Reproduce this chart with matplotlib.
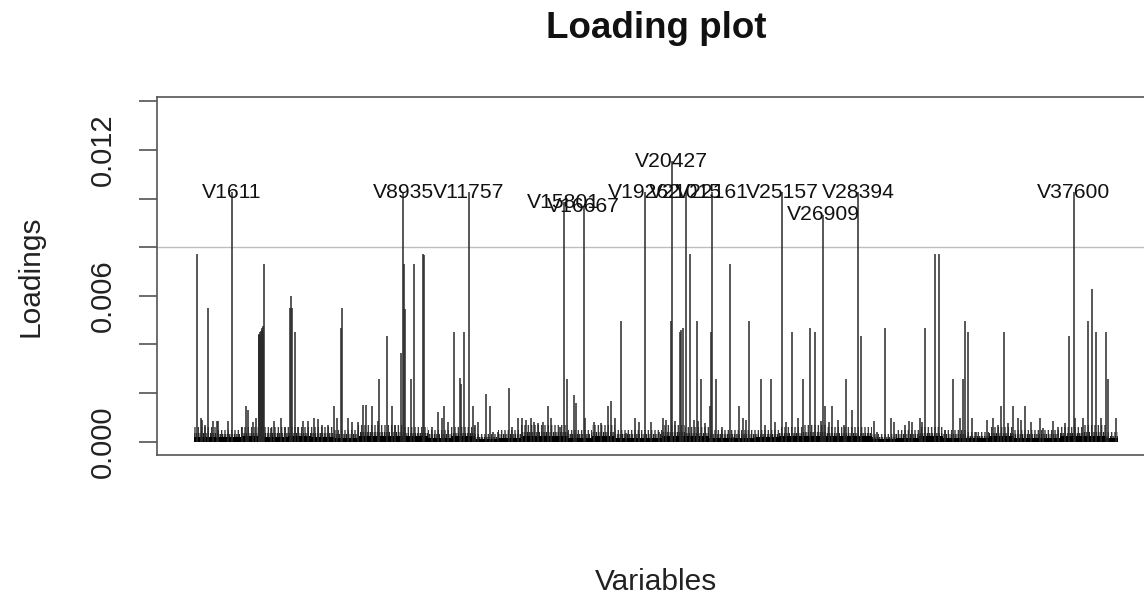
import matplotlib
matplotlib.use("Agg")
import matplotlib.pyplot as plt

plt.rcParams['font.family'] = ['Liberation Sans', 'DejaVu Sans']
plt.rcParams['hatch.linewidth'] = 1.0

# ---------------- data ----------------
n_vars = 39500

# labelled variables (index = number in the name) and loadings
label_names = ["V1611", "V8935", "V11757", "V15801", "V16667", "V19262", "V20427",
               "V21015", "V22161", "V25157", "V26909", "V28394", "V37600"]
label_idx = [1611, 8935, 11757, 15801, 16667, 19262, 20427,
             21015, 22161, 25157, 26909, 28394, 37600]
label_val = [0.01027, 0.01027, 0.01027, 0.00986, 0.00969, 0.01027, 0.01153,
             0.01027, 0.01027, 0.01027, 0.00934, 0.01027, 0.01027]

# large unlabelled loadings
peak_idx = [141, 585, 2222, 2760, 2777, 2800, 2834, 2850, 2870, 2892, 2910, 2930, 2948,
            2970, 3005, 4089, 4145, 4200, 4316, 5982, 6281, 6337,
            7236, 7337, 7593, 7918, 8233, 8448, 8831, 8973, 9016, 9258, 9415, 9785, 9842,
            10413, 10695, 11110, 11353, 11409, 11550, 11909, 12464, 12635,
            13460, 15114, 15938, 16237, 16323, 17703, 17848, 18275,
            20382, 20767, 20839, 20908, 21207, 21507, 21664, 22049, 22121, 22335, 22917,
            23288, 23715, 24258, 24685, 25566, 26023, 26335, 26549,
            26992, 27275, 27860, 28146, 28501, 29540, 31266, 31676, 31864, 32462,
            32873, 32945, 33103,
            34513, 34624, 35009, 35509, 37402, 38230, 38384, 38572, 38999, 39068]
peak_val = [0.00771, 0.00550, 0.00149, 0.00430, 0.00438, 0.00445, 0.00452, 0.00440, 0.00455,
            0.00466, 0.00450, 0.00460, 0.00475, 0.00445, 0.00733, 0.00550, 0.00600, 0.00550,
            0.00452, 0.00149, 0.00466, 0.00550,
            0.00153, 0.00150, 0.00149, 0.00256, 0.00435, 0.00149, 0.00363, 0.00733, 0.00547,
            0.00256, 0.00733, 0.00771, 0.00767,
            0.00123, 0.00149, 0.00452, 0.00264, 0.00239, 0.00452, 0.00149, 0.00195, 0.00149,
            0.00219, 0.00149, 0.00256, 0.00192, 0.00158, 0.00149, 0.00168, 0.00496,
            0.00496, 0.00452, 0.00459, 0.00466, 0.00771, 0.00496, 0.00256, 0.00149, 0.00452,
            0.00256, 0.00733,
            0.00149, 0.00496, 0.00256, 0.00256, 0.00452, 0.00256, 0.00466, 0.00452,
            0.00149, 0.00149, 0.00256, 0.00130, 0.00435, 0.00466, 0.00466, 0.00771, 0.00771,
            0.00256, 0.00256, 0.00496, 0.00452,
            0.00149, 0.00452, 0.00149, 0.00149, 0.00435, 0.00496, 0.00630, 0.00452,
            0.00452, 0.00256]

# small loadings above the noise floor
minor_idx = [285, 356, 470, 812, 969, 1040, 1467, 2037, 2293, 2535, 2635, 3290, 3433,
             3718, 3888, 4458, 4672, 4857, 5113, 5284, 5455, 5740, 6096,
             6595, 6766, 6994, 7848, 8589, 10184, 10583, 10868, 12007, 12150, 12791, 13004,
             13574, 13859, 14030, 14215, 14400, 14542, 14713, 14927, 15283, 15639, 16707,
             17106, 17391, 17989, 18488, 18873, 19015, 19556, 19869, 20055,
             20197, 20553, 21379, 21550, 21835, 22576, 23046, 23473, 23616, 23972, 24399,
             24826, 25325, 25823, 26820,
             27134, 27532, 27789, 29056, 29213, 29811, 29925, 30381, 30552, 30694, 31022,
             31122, 32119, 32760, 33258, 33443,
             33913, 34155, 34369, 34796, 35224, 35338, 35794, 36150, 36292, 36719, 36933,
             37218, 37645, 38001, 38785, 39413]
minor_val = [0.00096, 0.00089, 0.00069, 0.00085, 0.00085, 0.00085, 0.00085, 0.00062, 0.00130,
             0.00082, 0.00096, 0.00055, 0.00085, 0.00096, 0.00062, 0.00062, 0.00085, 0.00085,
             0.00096, 0.00092, 0.00069, 0.00069, 0.00096,
             0.00096, 0.00082, 0.00082, 0.00085, 0.00069, 0.00062, 0.00096, 0.00082, 0.00069,
             0.00082, 0.00041, 0.00041,
             0.00062, 0.00096, 0.00096, 0.00089, 0.00096, 0.00082, 0.00075, 0.00082, 0.00096,
             0.00062, 0.00096, 0.00082, 0.00078, 0.00096, 0.00034, 0.00096, 0.00082, 0.00082,
             0.00041, 0.00096,
             0.00089, 0.00085, 0.00089, 0.00085, 0.00075, 0.00062, 0.00021, 0.00096, 0.00089,
             0.00021, 0.00069, 0.00082, 0.00082, 0.00096, 0.00085,
             0.00082, 0.00089, 0.00069, 0.00085, 0.00041, 0.00096, 0.00082, 0.00069, 0.00085,
             0.00082, 0.00096, 0.00082, 0.00048, 0.00096, 0.00096, 0.00041,
             0.00089, 0.00096, 0.00069, 0.00075, 0.00096, 0.00089, 0.00082, 0.00096, 0.00055,
             0.00085, 0.00062, 0.00075, 0.00096, 0.00096, 0.00096, 0.00096]

# noise floor per block of 1000 variables (dense part, and sparse upper part)
block_start = list(range(0, 39500, 1000))
block_width = [1000] * 39 + [500]
floor_dense = [0.00020, 0.00018, 0.00022, 0.00018, 0.00022, 0.00018, 0.00015, 0.00022,
               0.00022, 0.00022, 0.00015, 0.00022, 0.00012, 0.00015, 0.00022, 0.00022,
               0.00015, 0.00022, 0.00015, 0.00015, 0.00022, 0.00022, 0.00015, 0.00015,
               0.00018, 0.00022, 0.00022, 0.00022, 0.00022, 0.00012, 0.00015, 0.00022,
               0.00015, 0.00015, 0.00022, 0.00015, 0.00015, 0.00022, 0.00022, 0.00015]
floor_sparse = [0.00060, 0.00050, 0.00060, 0.00060, 0.00060, 0.00060, 0.00050, 0.00070,
                0.00070, 0.00060, 0.00050, 0.00060, 0.00030, 0.00050, 0.00070, 0.00070,
                0.00050, 0.00070, 0.00050, 0.00050, 0.00070, 0.00060, 0.00050, 0.00050,
                0.00050, 0.00060, 0.00070, 0.00060, 0.00060, 0.00030, 0.00050, 0.00060,
                0.00050, 0.00040, 0.00060, 0.00050, 0.00050, 0.00060, 0.00070, 0.00040]

threshold = 0.008
y_ticks = [0.000, 0.002, 0.004, 0.006, 0.008, 0.010, 0.012, 0.014]
y_ticklabels = ["0.000", "", "", "0.006", "", "", "0.012", ""]

# ---------------- figure ----------------
W, H = 1144, 600
fig = plt.figure(figsize=(W / 100, H / 100), dpi=100)
ax = fig.add_axes([157 / W, 1 - 455 / H, 998 / W, (455 - 96.5) / H])

# sparse part of the noise floor: many thin lines
ax.bar(block_start, floor_sparse, width=block_width, align='edge', facecolor='none',
       edgecolor='#3a3a3a', hatch='|||||', linewidth=0)
ax.bar(block_start, [v * 0.6 for v in floor_sparse], width=block_width, align='edge',
       facecolor='none', edgecolor='#222222', hatch='|||||||', linewidth=0)
ax.bar(block_start, floor_dense, width=block_width, align='edge', color='black', linewidth=0)
ax.vlines(minor_idx, 0, minor_val, color='#2a2a2a', lw=1.1)
ax.vlines(peak_idx, 0, peak_val, color='#2a2a2a', lw=1.1)
ax.vlines(label_idx, 0, label_val, color='#2a2a2a', lw=1.1)
ax.axhline(threshold, color='#bdbdbd', lw=1.0, zorder=0.5)

for name, xi, v in zip(label_names, label_idx, label_val):
    ax.text(xi, v, name, ha='center', va='center', fontsize=15.2, color='#111111')

span = n_vars - 1
ax.set_xlim(1 - 0.04 * span, n_vars + 0.04 * span)
ax.set_ylim(-0.000546, 0.0142)
ax.set_xticks([])
ax.set_yticks(y_ticks)
ax.set_yticklabels(y_ticklabels, rotation=90, va='center', fontsize=21)
ax.tick_params(axis='y', length=13, width=1.1, color='#444444', pad=16, labelcolor='#222222')
for s in ax.spines.values():
    s.set_color('#555555')
    s.set_linewidth(1.2)

fig.text(656 / W, 1 - 28 / H, "Loading plot", ha='center', va='center',
         fontsize=26.5, fontweight='bold', color='#111111')
fig.text(31 / W, 1 - 276 / H, "Loadings", ha='center', va='center', rotation=90,
         fontsize=21.5, color='#222222')
fig.text(656 / W, 1 - 582 / H, "Variables", ha='center', va='center',
         fontsize=21.5, color='#222222')

fig.savefig("out.png", dpi=100)
